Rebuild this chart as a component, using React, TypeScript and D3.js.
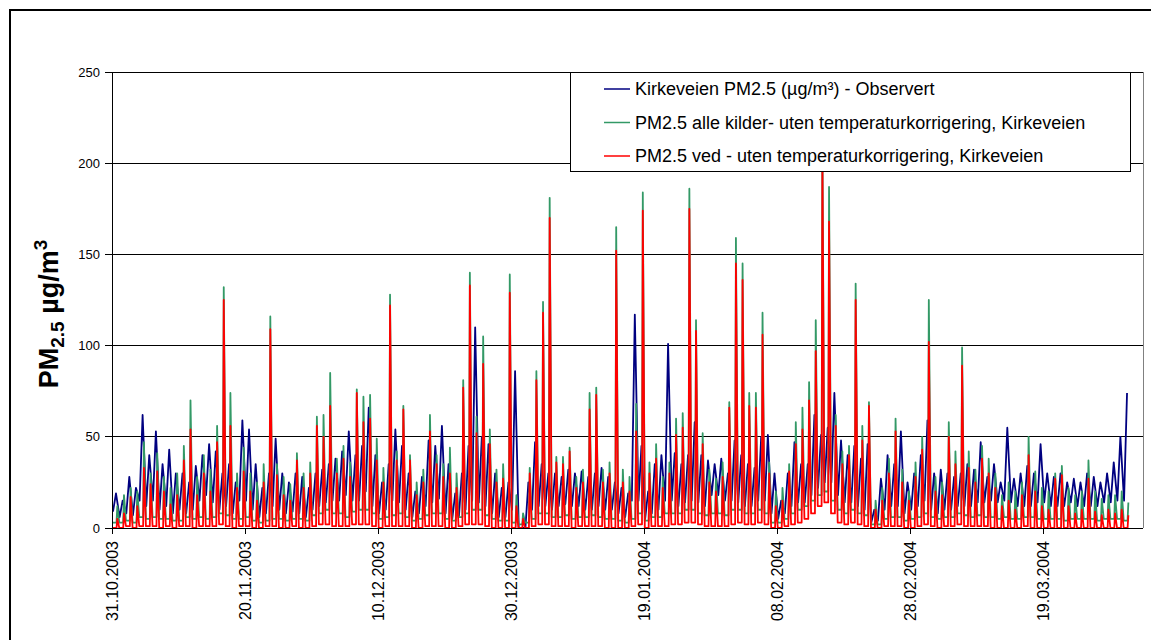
import React from "react";
import * as d3 from "d3";

// hourly series summarised as one trough and one peak per day, 31.10.2003 -> 01.04.2004
const startDay = Date.UTC(2003, 9, 31);
const DAY = 86400000;

const xTickLabels = ["31.10.2003", "20.11.2003", "10.12.2003", "30.12.2003", "19.01.2004", "08.02.2004", "28.02.2004", "19.03.2004"];
const yTicks = [0, 50, 100, 150, 200, 250];

const seriesNames = [
  "Kirkeveien PM2.5 (µg/m³) - Observert",
  "PM2.5 alle kilder- uten temperaturkorrigering, Kirkeveien",
  "PM2.5 ved - uten temperaturkorrigering, Kirkeveien",
];
const seriesColors = ["#000080", "#339966", "#ff0000"];

const blueHigh = [
  19, 15, 28, 22, 62, 40, 53, 35, 43, 30,
  30, 25, 34, 40, 46, 42, 30, 35, 25, 59,
  54, 35, 22, 30, 49, 30, 25, 30, 28, 22,
  30, 32, 35, 38, 42, 53, 40, 45, 66, 40,
  25, 35, 54, 45, 30, 20, 28, 48, 45, 56,
  35, 19, 30, 45, 110, 50, 46, 30, 22, 25,
  86, 0, 25, 47, 35, 30, 30, 28, 32, 30,
  31, 28, 30, 33, 28, 25, 22, 19, 117, 45,
  20, 35, 40, 101, 41, 35, 40, 58, 40, 37,
  35, 38, 30, 48, 40, 35, 33, 50, 51, 30,
  15, 30, 47, 35, 35, 62, 51, 55, 74, 48,
  40, 45, 38, 46, 10, 27, 40, 35, 53, 25,
  30, 40, 59, 30, 32, 30, 28, 30, 35, 32,
  47, 28, 35, 25, 55, 27, 30, 34, 30, 46,
  30, 28, 30, 25, 27, 25, 30, 28, 25, 30, 36, 50, 74,
];
const blueLow = [
  9, 6, 8, 7, 15, 12, 15, 10, 12, 8,
  10, 8, 10, 15, 18, 14, 10, 12, 8, 15,
  15, 10, 6, 8, 12, 10, 8, 9, 8, 6,
  10, 12, 14, 15, 15, 18, 15, 15, 20, 12,
  8, 10, 15, 14, 10, 6, 8, 12, 14, 16,
  8, 5, 6, 10, 15, 14, 12, 8, 6, 6,
  10, 0, 0, 10, 12, 12, 10, 12, 13, 12,
  12, 10, 10, 12, 10, 10, 8, 6, 15, 15,
  5, 8, 10, 15, 15, 12, 14, 15, 14, 12,
  18, 18, 15, 15, 14, 12, 12, 15, 15, 8,
  5, 8, 12, 14, 14, 18, 22, 25, 25, 18,
  14, 14, 12, 10, 3, 4, 10, 12, 12, 8,
  10, 12, 15, 10, 8, 10, 10, 12, 12, 12,
  14, 14, 15, 14, 15, 14, 12, 12, 12, 14,
  14, 12, 12, 12, 14, 12, 12, 12, 12, 14, 14, 15, 15,
];
const greenHigh = [
  12, 18, 22, 20, 47, 30, 41, 28, 22, 30,
  45, 70, 28, 40, 32, 56, 132, 74, 30, 44,
  30, 25, 35, 116, 35, 28, 24, 41, 30, 36,
  61, 62, 85, 38, 45, 36, 76, 72, 73, 49,
  33, 128, 42, 67, 40, 25, 32, 62, 40, 35,
  44, 30, 81, 140, 61, 105, 54, 32, 35, 139,
  18, 8, 33, 86, 124, 181, 39, 39, 44, 28,
  32, 74, 77, 32, 36, 165, 32, 28, 68, 184,
  36, 46, 28, 36, 60, 63, 186, 114, 52, 32,
  27, 36, 69, 159, 145, 74, 74, 118, 36, 20,
  22, 35, 58, 66, 80, 114, 215, 187, 62, 42,
  45, 134, 56, 69, 15, 22, 38, 60, 32, 20,
  36, 50, 125, 28, 25, 58, 42, 99, 42, 32,
  45, 38, 30, 18, 25, 20, 25, 50, 31, 22,
  20, 30, 34, 22, 18, 20, 37, 20, 16, 18, 18, 20, 14,
];
const greenLow = [
  3, 3, 4, 3, 6, 5, 6, 5, 5, 4,
  4, 6, 5, 6, 5, 6, 8, 7, 5, 5,
  6, 4, 3, 4, 5, 5, 4, 5, 5, 4,
  7, 8, 10, 8, 8, 6, 9, 10, 10, 8,
  5, 6, 7, 8, 6, 4, 5, 7, 8, 8,
  5, 4, 6, 8, 10, 10, 7, 5, 4, 4,
  3, 2, 3, 5, 8, 8, 6, 6, 7, 5,
  6, 6, 7, 6, 5, 5, 4, 3, 5, 8,
  4, 6, 6, 8, 8, 8, 10, 10, 8, 7,
  8, 8, 7, 10, 10, 8, 8, 10, 8, 3,
  3, 5, 8, 10, 12, 15, 18, 20, 15, 10,
  8, 10, 8, 7, 2, 2, 5, 6, 6, 4,
  5, 6, 8, 6, 5, 6, 6, 8, 7, 6,
  7, 6, 6, 5, 6, 5, 5, 6, 6, 5,
  5, 5, 5, 4, 5, 5, 5, 5, 4, 5, 5, 5, 4,
];
const redHigh = [
  5, 8, 17, 12, 33, 24, 31, 20, 13, 18,
  37, 54, 18, 30, 20, 47, 125, 56, 22, 31,
  20, 15, 25, 109, 29, 18, 15, 37, 22, 30,
  56, 50, 67, 30, 38, 28, 74, 58, 60, 37,
  25, 122, 37, 65, 37, 18, 25, 53, 35, 28,
  30, 22, 77, 133, 52, 90, 46, 25, 27, 129,
  12, 5, 30, 81, 118, 170, 36, 35, 42, 22,
  25, 65, 73, 25, 30, 152, 25, 20, 53, 174,
  30, 38, 22, 30, 51, 55, 175, 108, 46, 25,
  20, 28, 66, 145, 136, 67, 66, 106, 30, 12,
  15, 31, 46, 54, 70, 97, 205, 168, 56, 35,
  40, 125, 48, 67, 10, 15, 30, 53, 25, 15,
  28, 43, 102, 20, 18, 50, 35, 89, 33, 25,
  38, 30, 22, 12, 15, 10, 18, 40, 20, 12,
  10, 27, 29, 12, 8, 10, 27, 9, 7, 10, 8, 10, 7,
];
const redLow = [
  0, 0, 1, 0, 1, 1, 1, 0, 1, 0,
  1, 1, 0, 1, 1, 1, 2, 1, 0, 1,
  1, 0, 0, 1, 1, 0, 0, 1, 0, 0,
  1, 2, 2, 1, 1, 1, 2, 2, 2, 1,
  0, 1, 1, 1, 1, 0, 0, 1, 1, 1,
  0, 0, 1, 2, 2, 2, 1, 0, 0, 0,
  0, 0, 0, 1, 2, 2, 1, 1, 1, 0,
  1, 1, 1, 1, 0, 0, 0, 0, 1, 2,
  0, 1, 1, 1, 2, 2, 3, 3, 2, 1,
  1, 1, 1, 2, 3, 2, 2, 3, 2, 0,
  0, 1, 2, 3, 5, 8, 12, 14, 8, 3,
  2, 3, 2, 1, 0, 0, 1, 1, 1, 0,
  0, 1, 2, 1, 0, 1, 1, 2, 1, 1,
  1, 1, 0, 0, 0, 0, 0, 1, 0, 0,
  0, 0, 0, 0, 0, 0, 0, 0, 0, 0, 0, 0, 0,
];

type Pt = [number, number];

// observed: night trough, daytime peak
function broadDays(hi: number[], lo: number[]): Pt[] {
  const pts: Pt[] = [];
  hi.forEach((h, d) => {
    pts.push([startDay + (d + 0.15) * DAY, lo[d]]);
    pts.push([startDay + (d + 0.6) * DAY, h]);
  });
  return pts;
}

// modelled: flat night, sharp evening spike
function spikyDays(hi: number[], lo: number[]): Pt[] {
  const pts: Pt[] = [];
  hi.forEach((h, d) => {
    pts.push([startDay + (d + 0.1) * DAY, lo[d]]);
    pts.push([startDay + (d + 0.68) * DAY, lo[d]]);
    pts.push([startDay + (d + 0.8) * DAY, h]);
  });
  return pts;
}

function parseLabel(s: string) {
  const [dd, mm, yy] = s.split(".").map(Number);
  return Date.UTC(yy, mm - 1, dd);
}

const W = 1151;
const H = 640;
const left = 112;
const right = 1143;
const top = 72;
const bottom = 528;
const font = "'Liberation Sans', Arial, sans-serif";

export default function App() {
  const x = d3.scaleUtc().domain([startDay, Date.UTC(2004, 3, 3)]).range([left, right]);
  const y = d3.scaleLinear().domain([0, 250]).range([bottom, top]);
  const line = d3.line<Pt>().x((p) => x(p[0])).y((p) => y(p[1]));

  const series = [
    broadDays(blueHigh, blueLow),
    spikyDays(greenHigh, greenLow),
    spikyDays(redHigh, redLow),
  ];

  return (
    <div style={{ position: "absolute", left: 0, top: 0 }}>
      <svg width={W} height={H} style={{ display: "block", background: "#fff" }} fontFamily={font}>
        <rect x={10} y={10} width={W + 20} height={H + 20} fill="#fff" stroke="#000" strokeWidth={2} />

        {/* gridlines */}
        {yTicks.map((t) => (
          <line key={t} x1={left} x2={right} y1={y(t)} y2={y(t)} stroke="#000" strokeWidth={1} shapeRendering="crispEdges" />
        ))}
        <line x1={right} x2={right} y1={top} y2={bottom} stroke="#808080" strokeWidth={1} shapeRendering="crispEdges" />

        <clipPath id="plot">
          <rect x={left} y={top} width={right - left} height={bottom - top} />
        </clipPath>
        <g clipPath="url(#plot)">
          {series.map((s, i) => (
            <path key={i} d={line(s) || ""} fill="none" stroke={seriesColors[i]} strokeWidth={1.8} strokeLinejoin="round" />
          ))}
        </g>

        {/* axes */}
        <line x1={left} x2={left} y1={top} y2={bottom} stroke="#000" shapeRendering="crispEdges" />
        <line x1={left} x2={right} y1={bottom} y2={bottom} stroke="#000" shapeRendering="crispEdges" />
        {yTicks.map((t) => (
          <g key={t}>
            <line x1={left - 7} x2={left} y1={y(t)} y2={y(t)} stroke="#000" shapeRendering="crispEdges" />
            <text x={100} y={y(t)} dy="0.35em" textAnchor="end" fontSize={13}>
              {t}
            </text>
          </g>
        ))}
        {xTickLabels.map((lab) => {
          const px = x(parseLabel(lab));
          return (
            <g key={lab}>
              <line x1={px} x2={px} y1={bottom} y2={bottom + 6} stroke="#000" shapeRendering="crispEdges" />
              <text transform={`translate(${px + 6},${bottom + 13}) rotate(-90)`} textAnchor="end" fontSize={16}>
                {lab}
              </text>
            </g>
          );
        })}

        <text transform="translate(58,314) rotate(-90)" textAnchor="middle" fontSize={27} fontWeight="bold">
          PM<tspan fontSize={19} dy={6}>2.5</tspan>
          <tspan dy={-6}> µg/m</tspan>
          <tspan fontSize={19} dy={-11}>3</tspan>
        </text>

        {/* legend */}
        <rect x={570.5} y={72.5} width={560} height={99} fill="#fff" stroke="#000" strokeWidth={1} />
        {seriesNames.map((name, i) => {
          const ly = 89 + i * 33.5;
          return (
            <g key={name}>
              <line x1={604} x2={630} y1={ly} y2={ly} stroke={seriesColors[i]} strokeWidth={1.5} />
              <text x={635} y={ly} dy="0.35em" fontSize={18}>
                {name}
              </text>
            </g>
          );
        })}
      </svg>
    </div>
  );
}
